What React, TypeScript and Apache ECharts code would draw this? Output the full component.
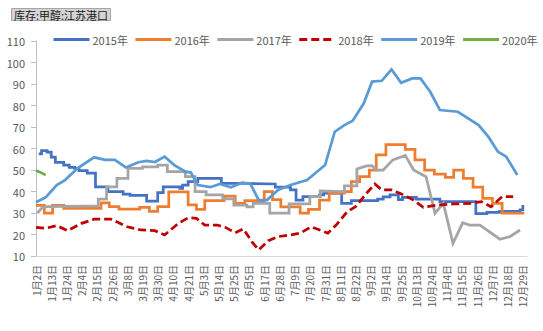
import React, { useEffect, useRef } from 'react';
import * as echarts from 'echarts';

const dateLabels = [
  '1月2日', '1月13日', '1月24日', '2月4日', '2月15日', '2月26日', '3月8日', '3月19日', '3月30日',
  '4月10日', '4月21日', '5月3日', '5月14日', '5月25日', '6月5日', '6月17日', '6月28日', '7月9日',
  '7月20日', '7月31日', '8月11日', '8月22日', '9月2日', '9月14日', '9月25日', '10月13日', '10月24日',
  '11月4日', '11月15日', '11月26日', '12月7日', '12月18日', '12月29日',
];

const yTicks = { min: 10, max: 110, step: 10 };

// [trading-day index, value]
const s2015 = [
  [2, 57.5], [4, 59], [8, 58.3], [11, 56], [14, 53.6], [20, 52.3], [24, 51.2], [28, 50.8], [31, 49.7],
  [37, 48.5], [43, 42.2], [52, 40], [63, 38.8], [68, 38.2], [80, 35.5], [88, 39.5], [92, 42.2],
  [104, 41.5], [106, 43], [110, 44.6], [117, 46.1], [134, 43.8], [150, 43.5], [173, 42], [184, 40.7],
  [188, 36], [193, 37.6], [205, 38.4], [208, 39.2], [221, 34.5], [228, 35.8], [247, 36.5], [251, 37.5],
  [256, 38.4], [262, 36.2], [265, 37.3], [275, 36.4], [292, 35.3], [318, 29.7], [326, 30.3],
  [335, 30.8], [350, 31.5], [352, 33.7],
];

const s2016 = [
  [0, 33.5], [6, 29.9], [12, 33.5], [20, 32.2], [47, 34.7], [53, 33], [60, 31.8], [75, 32.6], [82, 30.8],
  [88, 33], [96, 39.8], [110, 33.8], [116, 31.7], [122, 35.8], [136, 37.9], [144, 34.5], [151, 35.8],
  [165, 40], [171, 36.2], [177, 32.8], [191, 29.9], [197, 31.7], [205, 36], [212, 39.2], [223, 40],
  [228, 44.6], [234, 46.9], [241, 50], [246, 57], [253, 61.8], [267, 59.6], [274, 54.7], [281, 50],
  [288, 48.1], [296, 46.6], [302, 50], [309, 46.1], [316, 42], [323, 36.8], [330, 34.5], [337, 29.9],
  [353, 29.9],
];

const s2017 = [
  [1, 29.9], [4, 32.2], [8, 33], [45, 33.3], [45, 36.4], [51, 36.4], [51, 42.2], [58.5, 42.2], [58.5, 46.1],
  [66.5, 46.1], [66.5, 50.8], [77, 50.8], [77, 51.5], [88, 51.5], [88, 52.3], [95, 52.3], [95, 49.2],
  [108, 49.2], [108, 46.9], [115, 46.9], [115, 40], [123, 40], [123, 38.4], [135, 38.4], [135, 36.6],
  [143, 36.6], [143, 33.7], [152.5, 33.7], [152.5, 32.8], [157, 32.8], [157, 34.5], [169, 34.5],
  [169, 30], [183, 30], [183, 34.3], [198, 34.3], [198, 37.6], [205.5, 37.6], [205.5, 40.3], [223, 40],
  [223, 42.6], [232, 42.6], [232, 50.5], [239, 51.9], [243, 52], [246, 50], [251, 50], [258, 54.7],
  [267, 56.8], [273, 50], [282, 46.9], [288.5, 29.9], [294.5, 34.5], [301.5, 15.9], [308.5, 25.5],
  [313.5, 24.4], [321, 24.4], [335.4, 17.8], [342.6, 19], [350, 22.1],
];

const s2018 = [
  [0, 23.3], [7, 22.9], [15, 24.1], [23, 21.8], [33, 25.2], [42, 27.1], [54, 27.2], [66, 23.6], [76, 22.1],
  [86, 21.8], [93, 19.8], [103, 25.2], [110, 27.8], [116, 27.5], [122, 24.4], [131, 24.4], [137, 23.3],
  [144, 20.8], [150, 22.6], [156, 16.7], [161, 12.8], [168, 17.1], [175, 19], [184, 19.8], [191, 20.6],
  [199, 23.6], [211, 20.6], [217, 24.4], [225, 30.6], [231, 32.9], [239, 39.2], [245, 43.5], [250, 40.7],
  [257, 40.7], [263, 39.2], [269, 37.3], [273, 36], [280, 32.6], [290, 33.7], [302, 34.2], [314, 34.5],
  [322, 35.3], [329, 32.9], [337, 37.6], [345, 37.6],
];

const s2019 = [
  [0, 35], [7, 37.3], [15, 43], [21, 45.3], [30, 50.8], [42, 55.9], [50, 54.7], [57, 54.7], [65, 51.2],
  [74, 53.6], [80, 54.2], [86, 53.7], [93, 56.2], [100, 52.3], [108, 49.2], [112, 48.8], [117, 43],
  [126, 42], [133, 43.5], [141, 42], [149, 44.1], [155, 43.6], [161, 36], [167, 36], [175, 40.7],
  [184, 43], [196, 45.3], [209, 52.3], [216, 67.8], [223, 70.9], [229, 72.9], [237, 81], [243, 91.1],
  [250, 91.5], [257, 96.8], [264, 90.6], [272, 92.6], [278, 92.6], [285, 86.4], [292, 77.9],
  [305, 77.1], [320, 70.9], [327, 65.5], [334, 58.5], [340, 56.2], [348, 47.7],
];

const s2020 = [[0, 49.8], [3, 49], [7, 47.6]];

const seriesNames = ['2015年', '2016年', '2017年', '2018年', '2019年', '2020年'];
const seriesColors = ['#4472C4', '#ED7D31', '#A5A5A5', '#C00000', '#5B9BD5', '#70AD47'];

const FONT = "'Microsoft YaHei', 'Noto Sans CJK SC', sans-serif";

export default function App() {
  const ref = useRef<HTMLDivElement>(null);

  useEffect(() => {
    const chart = echarts.init(ref.current!, null, { renderer: 'svg' });
    const datas = [s2015, s2016, s2017, s2018, s2019, s2020];
    const steps: (string | false)[] = ['end', 'end', false, false, false, false];
    chart.setOption({
      animation: false,
      textStyle: { fontFamily: FONT },
      title: {
        text: '库存:甲醇:江苏港口',
        left: 11,
        top: 8,
        padding: [1, 3, 1, 3],
        backgroundColor: '#d4d4d4',
        borderColor: '#a6a6a6',
        borderWidth: 1,
        textStyle: { fontSize: 11, fontWeight: 'normal', color: '#1a1a1a', fontFamily: FONT },
      },
      legend: {
        left: 52,
        top: 34,
        padding: 0,
        itemWidth: 36,
        itemHeight: 14,
        itemGap: 6,
        data: seriesNames,
        itemStyle: { opacity: 0, borderWidth: 0 },
        lineStyle: { width: 3 },
        textStyle: { fontSize: 11, color: '#595959', fontFamily: FONT, padding: [0, 0, 0, -2] },
      },
      grid: { left: 36, right: 16, top: 41, bottom: 75, containLabel: false },
      xAxis: {
        type: 'value',
        min: 0,
        max: 355,
        interval: 11,
        axisLine: { show: true, lineStyle: { color: '#D9D9D9', width: 1 } },
        axisTick: { show: false },
        splitLine: { show: false },
        axisLabel: {
          rotate: 90,
          margin: 9,
          fontSize: 10,
          color: '#595959',
          fontFamily: FONT,
          showMaxLabel: false,
          formatter: (v: number) => {
            const i = v / 11;
            return Number.isInteger(i) && i < dateLabels.length ? dateLabels[i] : '';
          },
        },
      },
      yAxis: {
        type: 'value',
        min: yTicks.min,
        max: yTicks.max,
        interval: yTicks.step,
        axisLine: { show: true, lineStyle: { color: '#BFBFBF', width: 1 } },
        axisTick: { show: true, length: 5, lineStyle: { color: '#BFBFBF' } },
        splitLine: { show: false },
        axisLabel: { fontSize: 11, color: '#595959', margin: 11, fontFamily: FONT },
      },
      series: datas.map((d, i) => ({
        name: seriesNames[i],
        type: 'line',
        data: d,
        step: steps[i],
        showSymbol: false,
        symbol: 'none',
        smooth: false,
        color: seriesColors[i],
        lineStyle: {
          color: seriesColors[i],
          width: 2.75,
          type: i === 3 ? [8, 4] : 'solid',
          cap: 'butt',
          join: 'miter',
        },
      })),
    });
    return () => chart.dispose();
  }, []);

  return (
    <div
      ref={ref}
      style={{ width: 543, height: 331, position: 'absolute', left: 0, top: 0, background: '#fff' }}
    />
  );
}
